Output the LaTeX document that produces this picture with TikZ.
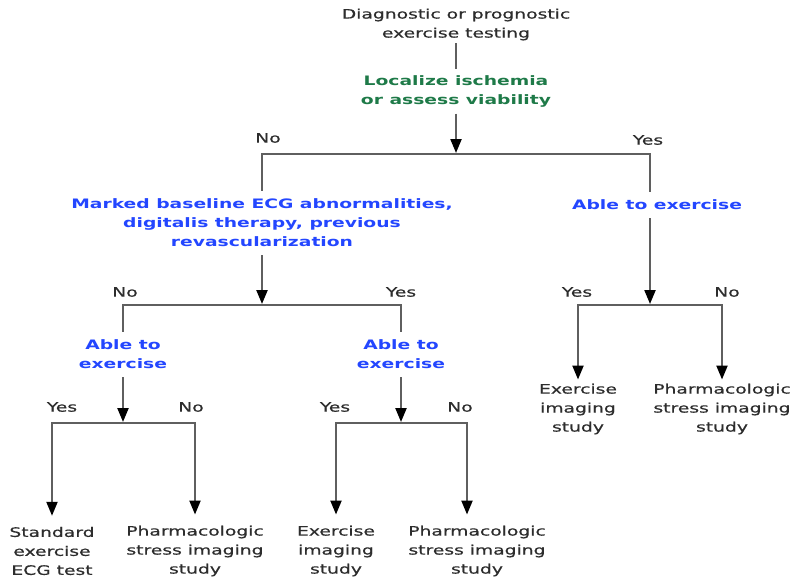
\documentclass[tikz,border=0pt]{standalone}
\usepackage{fontspec}
\setmainfont[FakeStretch=1.44]{DejaVu Sans}
\newfontfamily\regfont[FakeStretch=1.44,FakeBold=0.6]{DejaVu Sans}
\newfontfamily\boldfont[FakeStretch=1.44]{DejaVu Sans Bold}
\usetikzlibrary{arrows.meta}
\definecolor{txtgray}{RGB}{45,45,45}
\definecolor{linegray}{RGB}{95,95,95}
\definecolor{qgreen}{RGB}{30,122,72}
\definecolor{qblue}{RGB}{35,70,255}
\tikzset{
  conn/.style={draw=linegray, line width=2.2pt},
  arr/.style={conn, -{Triangle[width=11pt,length=14pt,color=black]}, shorten >=1pt},
  plain/.style={font=\regfont\fontsize{13}{19}\selectfont, text=txtgray, align=center, inner xsep=0pt, inner ysep=3pt},
  greenq/.style={plain, font=\boldfont\fontsize{13}{19}\selectfont, text=qgreen},
  blueq/.style={plain, font=\boldfont\fontsize{13}{19}\selectfont, text=qblue},
  lbl/.style={plain, inner sep=0pt}
}
\begin{document}
\begin{tikzpicture}[x=1pt,y=-1pt]
\path[use as bounding box, fill=white] (0,0) rectangle (794,578);
% nodes
\node[plain] (t) at (456,24.5) {Diagnostic or prognostic\\exercise testing};
\node[greenq, inner ysep=6pt] (g) at (456,91.5) {Localize ischemia\\or assess viability};
\coordinate (j1) at (456,154);
\node[blueq, inner ysep=8pt] (m) at (262,223) {Marked baseline ECG abnormalities,\\digitalis therapy, previous\\revascularization};
\node[blueq, inner ysep=8pt] (a1) at (657,205) {Able to exercise};
\coordinate (j2) at (262,305);
\coordinate (j5) at (650,305);
\node[blueq, inner ysep=8pt] (a2) at (123,354.5) {Able to\\exercise};
\node[blueq, inner ysep=8pt] (a3) at (401,354.5) {Able to\\exercise};
\coordinate (j3) at (123,423);
\coordinate (j4) at (401,423);
\node[plain, inner ysep=10pt] (l1) at (52,551) {Standard\\exercise\\ECG test};
\node[plain, inner ysep=10pt] (l2) at (195,551) {Pharmacologic\\stress imaging\\study};
\node[plain, inner ysep=10pt] (l3) at (336,551) {Exercise\\imaging\\study};
\node[plain, inner ysep=10pt] (l4) at (477,551) {Pharmacologic\\stress imaging\\study};
\node[plain, inner ysep=3pt] (r1) at (578,409) {Exercise\\imaging\\study};
\node[plain, inner ysep=3pt] (r2) at (722,409) {Pharmacologic\\stress imaging\\study};
% labels
\node[lbl] (n1) at (268,138) {No};
\node[lbl] (y1) at (648,140) {Yes};
\node[lbl] (n2) at (125,292) {No};
\node[lbl] (y2) at (401,292) {Yes};
\node[lbl] (y3) at (577,292) {Yes};
\node[lbl] (n3) at (727,292) {No};
\node[lbl] (y4) at (62,407) {Yes};
\node[lbl] (n4) at (191,407) {No};
\node[lbl] (y5) at (335,407) {Yes};
\node[lbl] (n5) at (460,407) {No};
% connectors
\draw[conn] (t) -- (g);
\draw[arr] (g) -- (j1);
\draw[conn] (m.north) |- (j1) -| ([xshift=-7pt]a1.north);
\draw[arr] (m) -- (j2);
\draw[conn] (a2.north) |- (j2) -| (a3.north);
\draw[arr] ([xshift=-7pt]a1.south) -- (j5);
\draw[arr] (j5) -| (r1.north);
\draw[arr] (j5) -| (r2.north);
\draw[arr] (a2) -- (j3);
\draw[arr] (a3) -- (j4);
\draw[arr] (j3) -| (l1.north);
\draw[arr] (j3) -| (l2.north);
\draw[arr] (j4) -| (l3.north);
\draw[arr] (j4) -| ([xshift=-10pt]l4.north);
\end{tikzpicture}
\end{document}
